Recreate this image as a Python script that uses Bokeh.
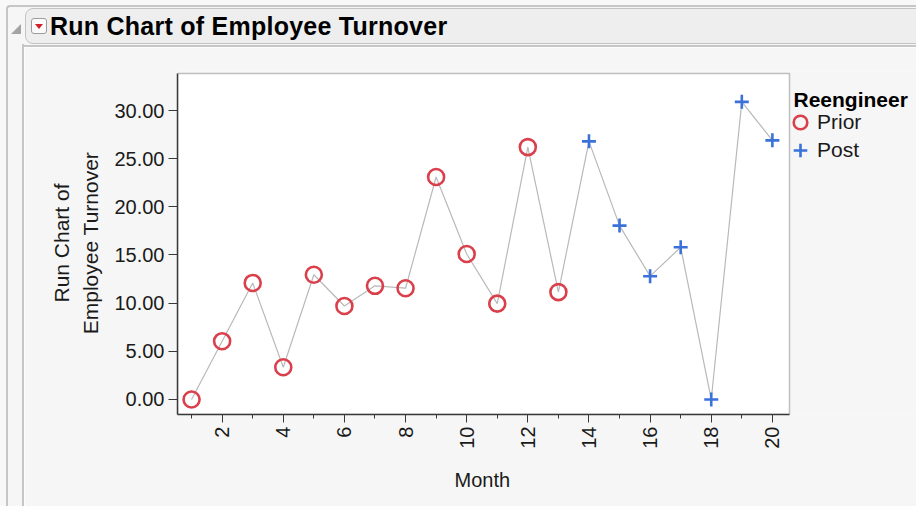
from bokeh.plotting import figure
from bokeh.models import (Range1d, SingleIntervalTicker, NumeralTickFormatter, Legend,
                          LegendItem, Label, Div, BoxAnnotation, Title)
from bokeh.layouts import column, row
from bokeh.embed import file_html
from bokeh.resources import INLINE

# ---- data ----
months = list(range(1, 21))
turnover = [0.0, 6.05, 12.1, 3.35, 12.95, 9.7, 11.8, 11.55, 23.1, 15.1,
            9.95, 26.2, 11.15, 26.8, 18.05, 12.8, 15.8, 0.0, 30.9, 26.9]
reengineer = ["Prior"] * 13 + ["Post"] * 7

title_text = "Run Chart of Employee Turnover"
legend_title = "Reengineer"
x_label = "Month"
y_label = "Run Chart of\nEmployee Turnover"
FONT = "Liberation Sans"
RED = "#d9404c"
BLUE = "#3a72da"
BG = "#f6f6f6"
AX = "#383838"
LINE_GRAY = "#c6c6c6"

prior_x = [m for m, r in zip(months, reengineer) if r == "Prior"]
prior_y = [v for v, r in zip(turnover, reengineer) if r == "Prior"]
post_x = [m for m, r in zip(months, reengineer) if r == "Post"]
post_y = [v for v, r in zip(turnover, reengineer) if r == "Post"]

# plotting box (data extents of the white area)
X0, X1 = 0.54, 20.56
Y0, Y1 = -1.56, 33.85
HDR_H = 47
STRIP_W = 24
FIG_W, FIG_H = 916 - STRIP_W, 506 - HDR_H
BL, BT, BB = 153, 24, 92
PLOT_W = 612                      # width in px of the white plotting area
frame_w = FIG_W - BL
x_end = X0 + (X1 - X0) * frame_w / PLOT_W

p = figure(width=FIG_W, height=FIG_H, output_backend="svg", toolbar_location=None,
           x_range=Range1d(X0, x_end), y_range=Range1d(Y0, Y1 + 0.2),
           min_border_left=BL, min_border_right=0, min_border_top=BT, min_border_bottom=BB)
p.background_fill_color = BG
p.border_fill_color = BG
p.outline_line_color = None
p.grid.visible = False

p.add_layout(BoxAnnotation(left=X0, right=X1, bottom=Y0, top=Y1, fill_color="white",
                           fill_alpha=1, line_color=AX, line_width=1.5, level="underlay"))

line_r = p.line(months, turnover, line_color="#b9b9b9", line_width=1.2)
c_r = p.scatter(prior_x, prior_y, marker="circle", size=16, fill_alpha=0,
                line_color=RED, line_width=2.6)
x_r = p.scatter(post_x, post_y, marker="cross", size=14, line_color=BLUE, line_width=2.6)

xa = p.xaxis[0]
xa.ticker = SingleIntervalTicker(interval=2, num_minor_ticks=2)
xa.bounds = (X0, X1)
xa.major_label_orientation = 3.14159265 / 2
ya = p.yaxis[0]
ya.ticker = SingleIntervalTicker(interval=5, num_minor_ticks=0)
ya.bounds = (Y0, Y1)
ya.formatter = NumeralTickFormatter(format="0.00")
ya.axis_label = y_label

for ax in (xa, ya):
    ax.axis_line_color = AX
    ax.axis_line_width = 1.5
    ax.major_tick_line_color = AX
    ax.minor_tick_line_color = AX
    ax.major_tick_in = 0
    ax.minor_tick_in = 0
    ax.major_label_text_font = FONT
    ax.major_label_text_font_size = "20px"
    ax.major_label_text_color = "#1a1a1a"
    ax.axis_label_text_font = FONT
    ax.axis_label_text_font_style = "normal"
    ax.axis_label_text_color = "#1a1a1a"
ya.axis_label_text_font_size = "21px"
xa.major_tick_out = 8
xa.minor_tick_out = 4
xa.major_label_standoff = 4
ya.major_tick_out = 9
ya.major_label_standoff = 4
ya.axis_label_standoff = 9
ya.axis_label_text_line_height = 1.27

# x-axis title, centred under the white plotting area (not the wider frame)
p.add_layout(Title(text=x_label, align="left", offset=277, standoff=31,
                   text_font=FONT, text_font_size="20px", text_font_style="normal",
                   text_color="#1a1a1a"), "below")

# legend entries, positioned in screen px relative to the frame's bottom-left
leg_kw = dict(glyph_width=34, glyph_height=34, padding=0, margin=0, label_standoff=0,
              border_line_color=None, background_fill_alpha=0,
              label_text_font=FONT, label_text_font_size="21px", label_text_color="#1a1a1a")
p.add_layout(Legend(items=[LegendItem(label="Prior", renderers=[c_r])],
                    location=(606, 275), **leg_kw), "center")
p.add_layout(Legend(items=[LegendItem(label="Post", renderers=[x_r])],
                    location=(606, 247), **leg_kw), "center")
p.add_layout(Label(x=616, y=315, x_units="screen", y_units="screen", text=legend_title,
                   text_font=FONT, text_font_size="21px", text_font_style="bold",
                   text_color="#000000", text_baseline="alphabetic"))

hdr_html = f'''<div style="position:relative;width:916px;height:{HDR_H}px;background:#f8f8f8;overflow:hidden">
<div style="position:absolute;left:6px;top:5px;width:920px;height:{HDR_H}px;box-sizing:border-box;border-top:2px solid {LINE_GRAY};border-left:2px solid {LINE_GRAY};border-radius:4px 0 0 0;background:{BG}"></div>
<div style="position:absolute;left:11px;top:24px;width:0;height:0;border-left:10px solid transparent;border-bottom:10px solid #a4a4a4"></div>
<div style="position:absolute;left:25px;top:8px;width:900px;height:36px;box-sizing:border-box;background:#eeeeee;border:1px solid #c4c4c4;border-radius:8px 0 0 8px"></div>
<div style="position:absolute;left:31px;top:18px;width:16px;height:16px;box-sizing:border-box;background:#fbfbfb;border:1px solid #9c9c9c;border-radius:3px"></div>
<div style="position:absolute;left:35px;top:24px;width:0;height:0;border-left:4px solid transparent;border-right:4px solid transparent;border-top:5px solid #d0202a"></div>
<div style="position:absolute;left:50px;top:14px;font-family:'Liberation Sans',Arial,sans-serif;font-weight:bold;font-size:25px;letter-spacing:0.25px;line-height:25px;color:#000;white-space:nowrap">{title_text}</div>
<div style="position:absolute;left:22px;top:45px;width:900px;height:2px;background:{LINE_GRAY}"></div>
<div style="position:absolute;left:22px;top:44px;width:2px;height:3px;background:{LINE_GRAY}"></div>
</div>'''
header = Div(text=hdr_html, width=916, height=HDR_H, margin=0)

strip_html = f'''<div style="position:relative;width:{STRIP_W}px;height:{FIG_H}px;background:#f8f8f8">
<div style="position:absolute;left:6px;top:0;width:{STRIP_W - 6}px;height:{FIG_H}px;background:{BG}"></div>
<div style="position:absolute;left:6px;top:0;width:2px;height:{FIG_H}px;background:{LINE_GRAY}"></div>
<div style="position:absolute;left:22px;top:0;width:2px;height:{FIG_H}px;background:{LINE_GRAY}"></div>
</div>'''
strip = Div(text=strip_html, width=STRIP_W, height=FIG_H, margin=0)

layout = column(header, row(strip, p, spacing=0), spacing=0)

open("out.html", "w").write(file_html(layout, INLINE))
